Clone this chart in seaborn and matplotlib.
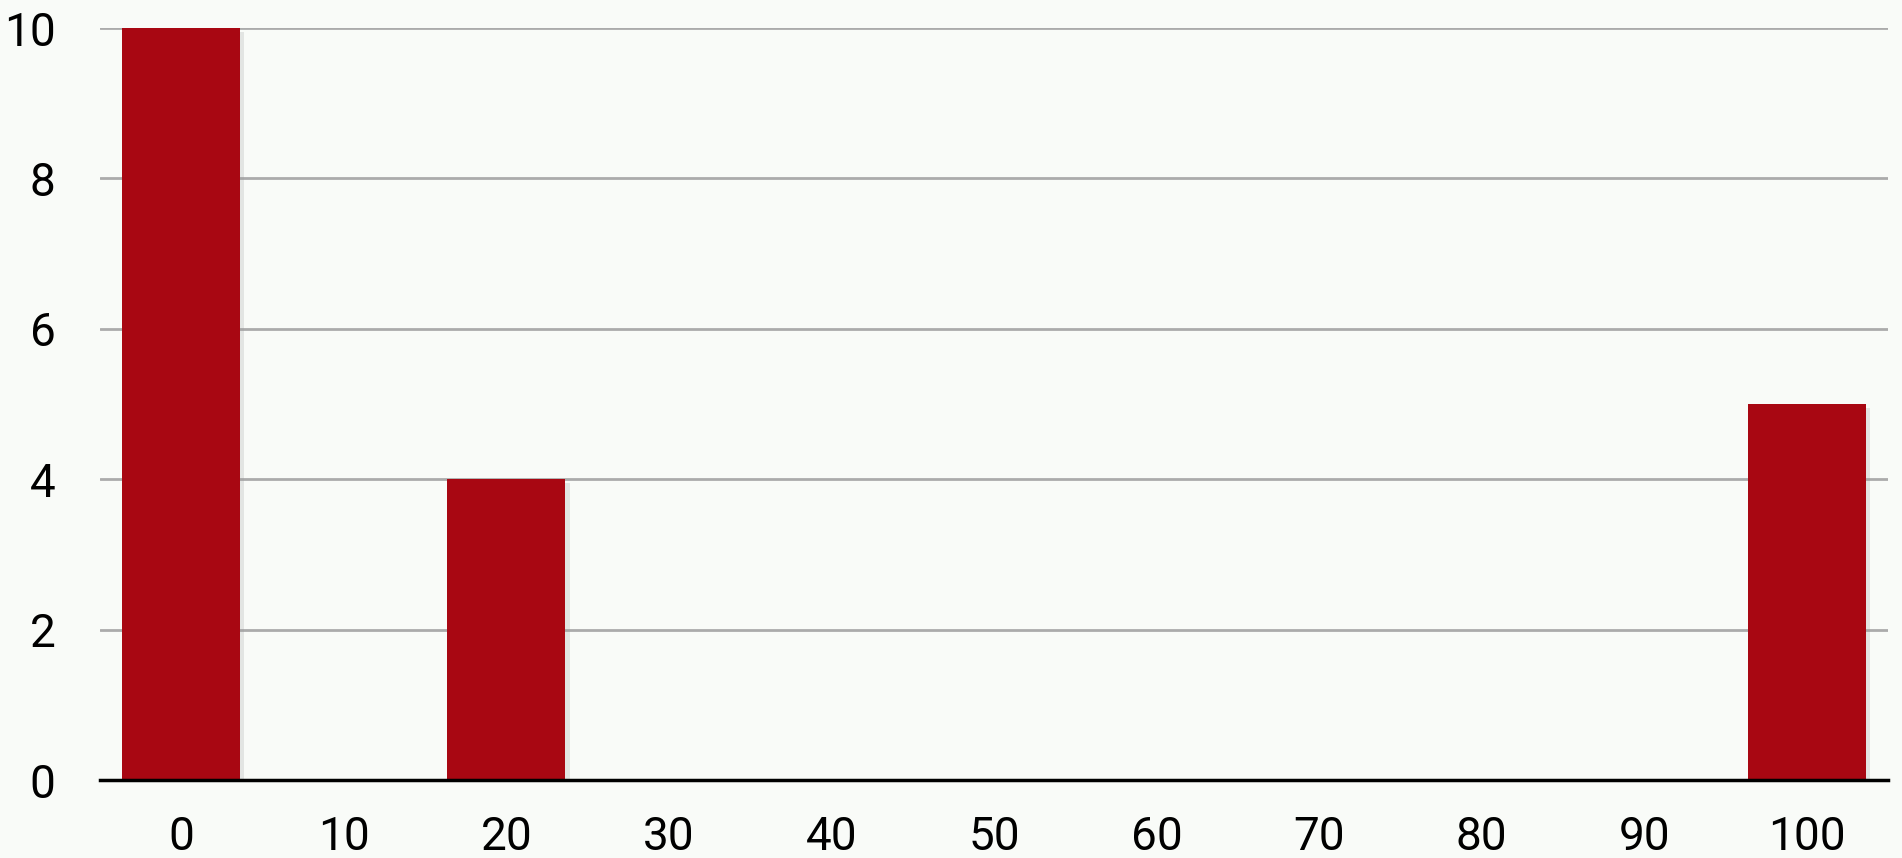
import matplotlib
matplotlib.use("Agg")
import matplotlib.pyplot as plt
import matplotlib.patheffects as pe
import seaborn as sns
import pandas as pd

categories = ["0", "10", "20", "30", "40", "50", "60", "70", "80", "90", "100"]
values = [10, 0, 4, 0, 0, 0, 0, 0, 0, 0, 5]
y_ticks = [0, 2, 4, 6, 8, 10]

bg = "#F9FBF8"
bar_color = "#A80712"

sns.set_theme(style="white")
plt.rcParams['font.family'] = ['Roboto', 'DejaVu Sans']

df = pd.DataFrame({"cat": categories, "val": values})

fig = plt.figure(figsize=(19.02, 8.58), dpi=100, facecolor=bg)
ax = fig.add_axes([100/1902, 1 - 780/858, 1788/1902, (780 - 28)/858])
ax.set_facecolor(bg)

sns.barplot(data=df, x="cat", y="val", order=categories, color=bar_color,
            saturation=1, width=0.726, ax=ax, zorder=3)
for p in ax.patches:
    p.set_edgecolor("none")
    p.set_path_effects([pe.SimplePatchShadow(offset=(3, -3), shadow_rgbFace="#999999", alpha=0.22), pe.Normal()])

ax.set_xlim(-0.5, len(categories) - 0.5)
ax.set_ylim(0, 10)
ax.set_yticks(y_ticks)
ax.set_yticklabels([str(t) for t in y_ticks])
ax.yaxis.grid(True, color="#ABABAB", linewidth=2, zorder=0)
ax.set_axisbelow(True)
ax.set_xlabel("")
ax.set_ylabel("")
for s in ["top", "right", "left"]:
    ax.spines[s].set_visible(False)
ax.spines["bottom"].set_color("#000000")
ax.spines["bottom"].set_linewidth(2.5)
ax.spines["bottom"].set_zorder(4)
ax.tick_params(axis="both", length=0, labelsize=33, colors="#000000")
ax.tick_params(axis="x", pad=25)
ax.tick_params(axis="y", pad=32)
for lbl in ax.get_yticklabels():
    lbl.set_horizontalalignment("right")

fig.savefig("out.png", dpi=100, facecolor=bg)
